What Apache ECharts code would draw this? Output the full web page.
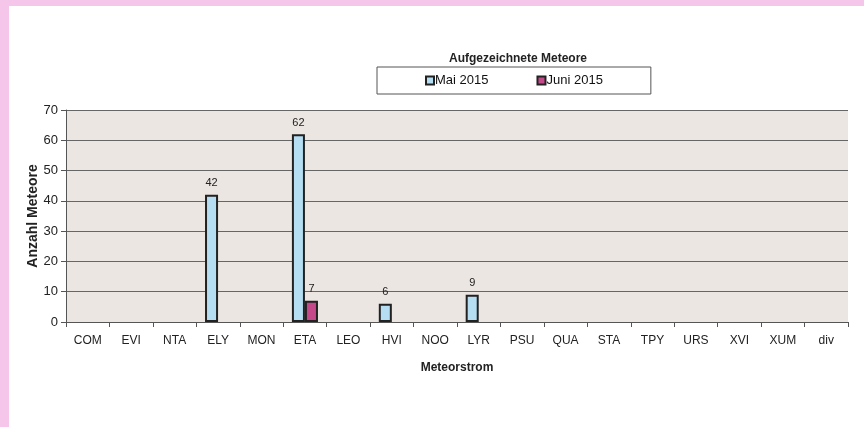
<!DOCTYPE html>
<html>
<head>
<meta charset="utf-8">
<script src="https://cdn.jsdelivr.net/npm/echarts@6/dist/echarts.min.js"></script>
<style>
  html, body { margin: 0; padding: 0; background: #f6c6ea; }
  #frame { position: absolute; left: 9px; top: 6px; right: 0; bottom: 0; background: #ffffff; }
  #chart { width: 864px; height: 427px; position: absolute; left: 0; top: 0; }
</style>
</head>
<body>
<div id="frame"></div>
<div id="chart"></div>
<script>
// Meteorströme
var streams = ['COM', 'EVI', 'NTA', 'ELY', 'MON', 'ETA', 'LEO', 'HVI', 'NOO', 'LYR', 'PSU', 'QUA', 'STA', 'TPY', 'URS', 'XVI', 'XUM', 'div'];
var mai2015 = [0, 0, 0, 42, 0, 62, 0, 6, 0, 9, 0, 0, 0, 0, 0, 0, 0, 0];
var juni2015 = [0, 0, 0, 0, 0, 7, 0, 0, 0, 0, 0, 0, 0, 0, 0, 0, 0, 0];
var yTicks = [0, 10, 20, 30, 40, 50, 60, 70];

var chart = echarts.init(document.getElementById('chart'), null, { renderer: 'canvas' });

var font = 'Liberation Sans, Arial, sans-serif';
var barLabel = {
  show: true,
  position: 'top',
  distance: 6,
  color: '#222',
  fontFamily: font,
  fontSize: 11,
  formatter: function (p) { return p.value ? p.value : ''; }
};

// leere Werte nicht als Balken zeichnen
function noZero(arr) {
  return arr.map(function (v) { return v === 0 ? '-' : v; });
}

var option = {
  backgroundColor: 'transparent',
  animation: false,
  title: {
    text: 'Aufgezeichnete Meteore',
    left: 513,
    top: 48,
    textAlign: 'center',
    textStyle: { fontFamily: font, fontSize: 12, fontWeight: 'bold', color: '#222' }
  },
  legend: {
    left: 377,
    top: 67,
    width: 274,
    height: 28,
    padding: [7, 48, 7, 48],
    itemGap: 48,
    itemWidth: 8,
    itemHeight: 8,
    icon: 'rect',
    borderColor: '#555',
    borderWidth: 1,
    textStyle: { fontFamily: font, fontSize: 13, color: '#111', padding: [0, 0, 0, -4] },
    data: ['Mai 2015', 'Juni 2015']
  },
  grid: {
    left: 66,
    right: 16,
    top: 110,
    bottom: 105,
    show: true,
    backgroundColor: '#ece6e3',
    borderWidth: 0
  },
  xAxis: {
    type: 'category',
    data: streams,
    name: 'Meteorstrom',
    nameLocation: 'middle',
    nameGap: 40,
    nameMoveOverlap: false,
    nameTextStyle: { fontFamily: font, fontSize: 12, fontWeight: 'bold', color: '#222' },
    axisLine: { lineStyle: { color: '#555', width: 1 } },
    axisTick: { show: true, length: 5, lineStyle: { color: '#555' } },
    axisLabel: { fontFamily: font, fontSize: 12, color: '#222', margin: 13, interval: 0 },
    splitLine: { show: false }
  },
  yAxis: {
    type: 'value',
    min: yTicks[0],
    max: yTicks[yTicks.length - 1],
    interval: 10,
    name: 'Anzahl Meteore',
    nameLocation: 'middle',
    nameGap: 26,
    nameMoveOverlap: false,
    nameTextStyle: { fontFamily: font, fontSize: 14, fontWeight: 'bold', color: '#222' },
    axisLine: { show: true, lineStyle: { color: '#555', width: 1 } },
    axisTick: { show: true, length: 5, lineStyle: { color: '#555' } },
    axisLabel: { fontFamily: font, fontSize: 13, color: '#222', margin: 8 },
    splitLine: { show: true, lineStyle: { color: '#666', width: 1 } }
  },
  series: [
    {
      name: 'Mai 2015',
      type: 'bar',
      data: noZero(mai2015),
      barGap: '0%',
      barCategoryGap: '40%',
      itemStyle: { color: '#b5def2', borderColor: '#222', borderWidth: 2 },
      label: barLabel
    },
    {
      name: 'Juni 2015',
      type: 'bar',
      data: noZero(juni2015),
      itemStyle: { color: '#c4488a', borderColor: '#222', borderWidth: 2 },
      label: barLabel
    }
  ]
};

chart.setOption(option);
</script>
</body>
</html>
